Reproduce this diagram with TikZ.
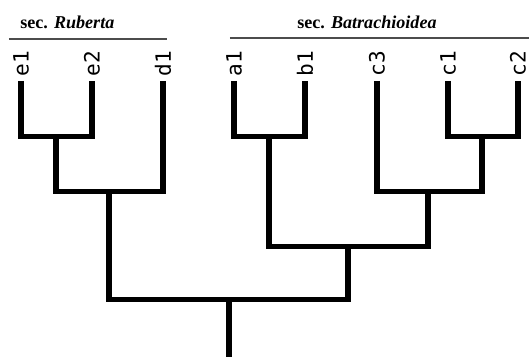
\documentclass[tikz,border=0pt]{standalone}
\usepackage{fontspec}
\setmainfont{Liberation Serif}
\newfontfamily\leaffont{DejaVu Sans Mono}
\usetikzlibrary{positioning}
\tikzset{branch/.style={line width=2.85pt}}
\tikzset{leaf/.style={rotate=90, anchor=west, inner sep=2.5pt, font=\leaffont\fontsize{12}{12}\selectfont}}
\tikzset{secline/.style={line width=1.2pt, black!70}}
\tikzset{seclabel/.style={font=\bfseries\fontsize{10.3}{12}\selectfont, inner sep=0pt}}

\begin{document}
\begin{tikzpicture}[x=0.02cm,y=-0.02cm]
      \useasboundingbox (0,0) rectangle (529,357);
      % leaves
      \node[leaf] (e1) at (21,81) {e1};
      \node[leaf] (e2) at (92,81) {e2};
      \node[leaf] (d1) at (163,81) {d1};
      \node[leaf] (a1) at (234,81) {a1};
      \node[leaf] (b1) at (305,81) {b1};
      \node[leaf] (c3) at (377,81) {c3};
      \node[leaf] (c1) at (448,81) {c1};
      \node[leaf] (c2) at (518,81) {c2};
      % inner nodes
      \coordinate (e12) at (56,137);
      \coordinate (ed) at (109,192);
      \coordinate (ab) at (269,137);
      \coordinate (cc) at (482,137);
      \coordinate (c3c) at (428,192);
      \coordinate (abc) at (348,247);
      \coordinate (top) at (229,300);
      \coordinate (root) at (229,357);
      \draw[branch] (e1.west) |- (e12) -| (e2.west);
      \draw[branch] (e12) |- (ed) -| (d1.west);
      \draw[branch] (a1.west) |- (ab) -| (b1.west);
      \draw[branch] (c1.west) |- (cc) -| (c2.west);
      \draw[branch] (c3.west) |- (c3c) -| (cc);
      \draw[branch] (ab) |- (abc) -| (c3c);
      \draw[branch] (ed) |- (top) -| (abc);
      \draw[branch] (top) -- (root);
      % sections
      \coordinate (rl) at (9,39);
      \coordinate (rr) at (167,39);
      \coordinate (bl) at (230,38);
      \coordinate (br) at (529,38);
      \draw[secline] (rl) -- (rr);
      \draw[secline] (bl) -- (br);
      \node[seclabel, anchor=west] (rub) at (20,22) {sec. \textit{Ruberta}};
      \node[seclabel] (bat) at (367,22) {sec. \textit{Batrachioidea}};
    \end{tikzpicture}
\end{document}
